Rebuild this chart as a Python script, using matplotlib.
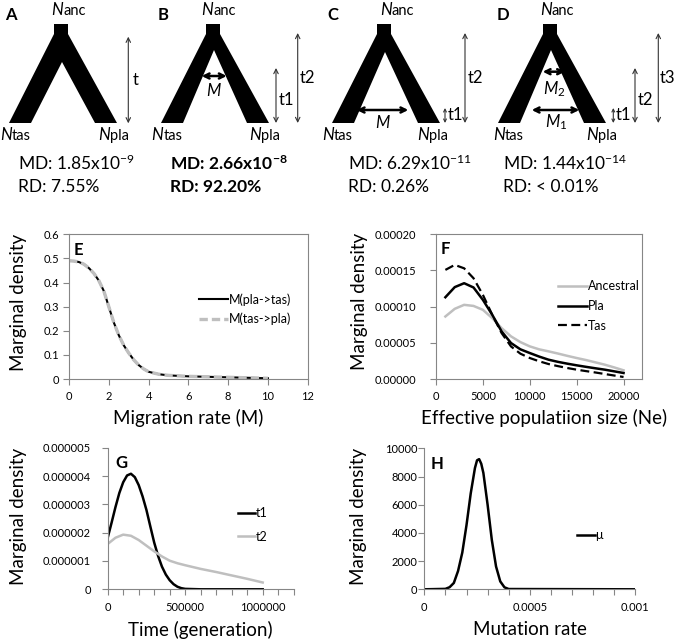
import matplotlib
matplotlib.use('Agg')
import matplotlib.pyplot as plt
from matplotlib.patches import Polygon
from matplotlib.ticker import FixedLocator, MultipleLocator, FuncFormatter

plt.rcParams['font.family'] = ['Lato', 'DejaVu Sans']
plt.rcParams['mathtext.fontset'] = 'custom'
plt.rcParams['mathtext.rm'] = 'Lato'
plt.rcParams['mathtext.it'] = 'Lato:italic'
plt.rcParams['mathtext.bf'] = 'Lato:bold'

# ---- data ----
# E: migration rate
mig_x = [0, 0.25, 0.5, 0.75, 1.0, 1.25, 1.5, 1.75, 2.0, 2.25, 2.5, 2.75, 3.0, 3.25,
         3.5, 3.75, 4.0, 4.5, 5, 6, 7, 8, 9, 10]
mig_pla_tas = [0.490, 0.489, 0.485, 0.476, 0.460, 0.438, 0.408, 0.365, 0.300, 0.235,
               0.182, 0.140, 0.108, 0.080, 0.058, 0.042, 0.030, 0.020, 0.015, 0.011,
               0.009, 0.007, 0.005, 0.003]
mig_tas_pla = [0.490, 0.489, 0.485, 0.476, 0.460, 0.438, 0.408, 0.365, 0.300, 0.235,
               0.182, 0.140, 0.108, 0.080, 0.058, 0.042, 0.030, 0.020, 0.015, 0.011,
               0.009, 0.007, 0.005, 0.003]

# F: effective population size
ne_x = [1000, 2000, 3000, 4000, 5000, 6000, 7000, 8000, 9000, 10000,
        11000, 12000, 13000, 14000, 15000, 16000, 17000, 18000, 19000, 20000]
ne_anc = [8.64e-5, 9.70e-5, 1.025e-4, 1.01e-4, 9.56e-5, 8.41e-5, 7.03e-5, 5.89e-5, 5.10e-5, 4.51e-5,
          4.10e-5, 3.82e-5, 3.52e-5, 3.20e-5, 2.90e-5, 2.62e-5, 2.30e-5, 1.98e-5, 1.60e-5, 1.20e-5]
ne_pla = [1.13e-4, 1.27e-4, 1.324e-4, 1.265e-4, 1.094e-4, 8.87e-5, 6.57e-5, 4.97e-5, 4.10e-5, 3.59e-5,
          3.10e-5, 2.67e-5, 2.37e-5, 2.12e-5, 1.89e-5, 1.68e-5, 1.48e-5, 1.29e-5, 1.06e-5, 8.3e-6]
ne_tas = [1.508e-4, 1.577e-4, 1.53e-4, 1.393e-4, 1.163e-4, 8.87e-5, 6.34e-5, 4.50e-5, 3.50e-5, 2.90e-5,
          2.45e-5, 2.07e-5, 1.78e-5, 1.52e-5, 1.29e-5, 1.09e-5, 9.0e-6, 6.9e-6, 4.8e-6, 2.8e-6]

# G: divergence times
t1_x = [0, 25000, 50000, 75000, 100000, 125000, 150000, 175000, 200000, 225000, 250000,
        275000, 300000, 325000, 350000, 375000, 400000, 425000, 450000, 475000, 500000,
        600000, 800000, 1000000]
t1_y = [1.82e-6, 2.35e-6, 2.90e-6, 3.40e-6, 3.78e-6, 4.02e-6, 4.08e-6, 3.96e-6, 3.68e-6, 3.28e-6,
        2.80e-6, 2.22e-6, 1.65e-6, 1.18e-6, 0.80e-6, 0.52e-6, 0.32e-6, 0.18e-6, 0.09e-6, 0.04e-6,
        0.015e-6, 0, 0, 0]
t2_x = [0, 50000, 100000, 150000, 200000, 250000, 300000, 350000, 400000, 450000, 500000,
        600000, 700000, 800000, 900000, 1000000]
t2_y = [1.60e-6, 1.82e-6, 1.93e-6, 1.89e-6, 1.74e-6, 1.54e-6, 1.34e-6, 1.16e-6, 1.01e-6, 0.92e-6,
        0.85e-6, 0.72e-6, 0.61e-6, 0.49e-6, 0.37e-6, 0.24e-6]

# H: mutation rate
mu_x = [0, 0.0001, 0.00012, 0.00014, 0.00016, 0.00018, 0.0002, 0.00022, 0.00024, 0.00025,
        0.00026, 0.00027, 0.00028, 0.0003, 0.00032, 0.00034, 0.00036, 0.00038, 0.0004, 0.001]
mu_y = [0, 30, 150, 450, 1300, 2600, 4550, 6800, 8600, 9150, 9230, 8900, 8250, 6000, 3500,
        1620, 560, 140, 20, 0]

# model panels A-D
models = [
    dict(letter='A', lx=11, cx=61, apex=62, md='MD: 1.85x10$^{-9}$', rd='RD: 7.55%', tx=18,
         bold=False, anc=63, tas=11.7, pla=110),
    dict(letter='B', lx=163, cx=213, apex=50, md='MD: 2.66x10$^{\\mathbf{-8}}$', rd='RD: 92.20%',
         tx=170, bold=True, anc=213.3, tas=163.3, pla=261),
    dict(letter='C', lx=333, cx=384, apex=52, md='MD: 6.29x10$^{-11}$', rd='RD: 0.26%', tx=348,
         bold=False, anc=391.7, tas=334, pla=429.3),
    dict(letter='D', lx=503, cx=550, apex=50, md='MD: 1.44x10$^{-14}$', rd='RD: < 0.01%', tx=503,
         bold=False, anc=551.7, tas=505, pla=598.3),
]
# (x, y_top, y_bottom, label, label_x, label_y)
time_arrows = [
    (128.3, 36.7, 123.3, 't', 133, 80),
    (276, 68, 123, 't1', 279, 100), (297.7, 33, 123, 't2', 300, 78),
    (445, 108, 123, 't1', 448, 115), (465, 33, 123, 't2', 468, 78),
    (613.3, 108, 123, 't1', 616, 115), (635, 68, 123, 't2', 638, 100), (658.3, 33, 123, 't3', 660, 78),
]
# (x_left, x_right, y, label, label_x, label_y)
mig_arrows = [
    (201.7, 226.7, 76, '$\\mathit{M}$', 214, 90),
    (356.7, 408.3, 110, '$\\mathit{M}$', 383, 122),
    (542.7, 565, 71.7, '$\\mathit{M}_{\\mathrm{2}}$', 554, 89),
    (531.7, 579.3, 110, '$\\mathit{M}_{\\mathrm{1}}$', 556, 122),
]

W, H = 675, 643
GRAY = '#bfbfbf'
SPINE = '#868686'
LABEL_FS = 13.5

fig = plt.figure(figsize=(W / 100, H / 100), dpi=100)


def ax_at(l, t, r, b):
    return fig.add_axes([l / W, 1 - b / H, (r - l) / W, (b - t) / H])


def style(ax, box, ypad):
    for s in ax.spines.values():
        s.set_color(SPINE)
        s.set_linewidth(0.8)
    if not box:
        ax.spines['top'].set_visible(False)
        ax.spines['right'].set_visible(False)
    ax.tick_params(which='both', direction='out', length=4, width=0.8, color=SPINE,
                   labelsize=8, top=False, right=False)
    ax.tick_params(axis='y', pad=ypad)
    ax.tick_params(axis='x', pad=5)


# ---- E ----
axE = ax_at(69, 234.3, 307.7, 379)
axE.plot(mig_x, mig_pla_tas, color='black', lw=1.5, label='M(pla->tas)')
axE.plot(mig_x, mig_tas_pla, color=GRAY, lw=2.4, dashes=(2.5, 1.2), label='M(tas->pla)')
axE.set_xlim(0, 12)
axE.set_ylim(0, 0.6)
axE.xaxis.set_major_locator(MultipleLocator(2))
axE.yaxis.set_major_locator(MultipleLocator(0.1))
axE.yaxis.set_major_formatter(FuncFormatter(lambda v, p: '0' if abs(v) < 1e-12 else f'{v:.1f}'))
style(axE, True, 3)
axE.set_xlabel('Migration rate (M)', fontsize=LABEL_FS)
axE.xaxis.set_label_coords(0.5, -0.21)
axE.set_ylabel('Marginal density', fontsize=LABEL_FS)
axE.yaxis.set_label_coords(-0.176, 0.53)
axE.legend(loc='center left', bbox_to_anchor=(199 / W, 1 - 309 / H), bbox_transform=fig.transFigure,
           frameon=False, fontsize=9, handlelength=2.3, handletextpad=0.1, borderpad=0,
           borderaxespad=0, labelspacing=0.55)

# ---- F ----
axF = ax_at(436, 234.3, 642.3, 379)
axF.plot(ne_x, ne_anc, color=GRAY, lw=1.8, label='Ancestral')
axF.plot(ne_x, ne_pla, color='black', lw=1.8, label='Pla')
axF.plot(ne_x, ne_tas, color='black', lw=1.6, dashes=(4, 2), label='Tas')
axF.set_xlim(0, 22000)
axF.set_ylim(0, 0.0002)
axF.xaxis.set_major_locator(FixedLocator([0, 5000, 10000, 15000, 20000]))
axF.yaxis.set_major_locator(MultipleLocator(0.00005))
axF.yaxis.set_major_formatter(FuncFormatter(lambda v, p: f'{v:.5f}'))
style(axF, True, 10)
axF.set_xlabel('Effective populatiion size (Ne)', fontsize=LABEL_FS)
axF.xaxis.set_label_coords(0.524, -0.21)
axF.set_ylabel('Marginal density', fontsize=LABEL_FS)
axF.yaxis.set_label_coords(-0.33, 0.538)
axF.legend(loc='center left', bbox_to_anchor=(558 / W, 1 - 306 / H), bbox_transform=fig.transFigure,
           frameon=False, fontsize=9, handlelength=2.3, handletextpad=0.1, borderpad=0,
           borderaxespad=0, labelspacing=0.6)

# ---- G ----
axG = ax_at(107.7, 447.7, 293.7, 589.3)
axG.plot(t1_x, t1_y, color='black', lw=1.8, label='t1')
axG.plot(t2_x, t2_y, color=GRAY, lw=1.8, label='t2')
axG.set_xlim(0, 1200000)
axG.set_ylim(0, 0.000005)
axG.xaxis.set_major_locator(FixedLocator([0, 500000, 1000000]))
axG.xaxis.set_minor_locator(MultipleLocator(100000))
axG.xaxis.set_major_formatter(FuncFormatter(lambda v, p: f'{v:.0f}'))
axG.yaxis.set_major_locator(MultipleLocator(0.000001))
axG.yaxis.set_major_formatter(FuncFormatter(lambda v, p: '0' if abs(v) < 1e-15 else f'{v:.6f}'))
style(axG, False, 8)
axG.set_xlabel('Time (generation)', fontsize=LABEL_FS)
axG.xaxis.set_label_coords(0.5, -0.225)
axG.set_ylabel('Marginal density', fontsize=LABEL_FS)
axG.yaxis.set_label_coords(-0.435, 0.518)
axG.legend(loc='center left', bbox_to_anchor=(238 / W, 1 - 525 / H), bbox_transform=fig.transFigure,
           frameon=False, fontsize=9, handlelength=1.4, handletextpad=0.05, borderpad=0,
           borderaxespad=0, labelspacing=0.9)

# ---- H ----
axH = ax_at(424.3, 448.3, 635.3, 589.3)
axH.plot(mu_x, mu_y, color='black', lw=1.8, label='μ')
axH.set_xlim(0, 0.001)
axH.set_ylim(0, 10000)
axH.xaxis.set_major_locator(FixedLocator([0, 0.0005, 0.001]))
axH.xaxis.set_minor_locator(MultipleLocator(0.0001))
axH.xaxis.set_major_formatter(FuncFormatter(lambda v, p: f'{v:g}'))
axH.yaxis.set_major_locator(MultipleLocator(2000))
axH.yaxis.set_major_formatter(FuncFormatter(lambda v, p: f'{v:.0f}'))
style(axH, False, 1)
axH.set_xlabel('Mutation rate', fontsize=LABEL_FS)
axH.xaxis.set_label_coords(0.5, -0.225)
axH.set_ylabel('Marginal density', fontsize=LABEL_FS)
axH.yaxis.set_label_coords(-0.273, 0.52)
axH.legend(loc='center left', bbox_to_anchor=(577 / W, 1 - 535 / H), bbox_transform=fig.transFigure,
           frameon=False, fontsize=9, handlelength=1.4, handletextpad=0.05, borderpad=0,
           borderaxespad=0)

# ---- overlay for the model diagrams and panel letters (pixel coords) ----
ov = fig.add_axes([0, 0, 1, 1])
ov.set_xlim(0, W)
ov.set_ylim(H, 0)
ov.set_axis_off()
ov.set_zorder(10)

for m in models:
    cx = m['cx']
    shape = [(cx - 7, 24), (cx + 7, 24), (cx + 7, 34), (cx + 56, 123), (cx + 34, 123),
             (cx + 1, m['apex']), (cx - 30, 123), (cx - 52, 123), (cx - 7, 34)]
    ov.add_patch(Polygon(shape, closed=True, color='black', lw=0))
    ov.text(m['lx'], 15, m['letter'], fontsize=12, fontweight='bold', ha='center', va='center')
    for sx, sy, sub in [(m['anc'], 15, 'anc'), (m['tas'], 140, 'tas'), (m['pla'], 140, 'pla')]:
        ov.text(sx, sy, 'N', fontsize=12, style='italic', ha='right', va='baseline')
        ov.text(sx, sy, sub, fontsize=10.5, ha='left', va='baseline')
    w = 'bold' if m['bold'] else 'normal'
    ov.text(m['tx'], 170, m['md'], fontsize=12.5, fontweight=w, ha='left', va='baseline')
    ov.text(m['tx'], 191.7, m['rd'], fontsize=12.5, fontweight=w, ha='left', va='baseline')

for x, y0, y1, lab, lx, ly in time_arrows:
    ms = 5 if y1 - y0 < 20 else 8
    ov.annotate('', xy=(x, y0), xytext=(x, y1),
                arrowprops=dict(arrowstyle='<->', lw=0.8, color='#333333', shrinkA=0, shrinkB=0,
                                mutation_scale=ms))
    ov.text(lx, ly, lab, fontsize=12, ha='left', va='center')

for x0, x1, y, lab, lx, ly in mig_arrows:
    ov.annotate('', xy=(x0, y), xytext=(x1, y),
                arrowprops=dict(arrowstyle='<->', lw=1.8, color='black', shrinkA=0, shrinkB=0,
                                mutation_scale=9))
    ov.text(lx, ly, lab, fontsize=12, ha='center', va='center')

for lab, x, y in [('E', 78.5, 250), ('F', 445, 249), ('G', 121.5, 463), ('H', 437, 464)]:
    ov.text(x, y, lab, fontsize=12, fontweight='bold', ha='center', va='center')

fig.savefig('out.png', dpi=100)
